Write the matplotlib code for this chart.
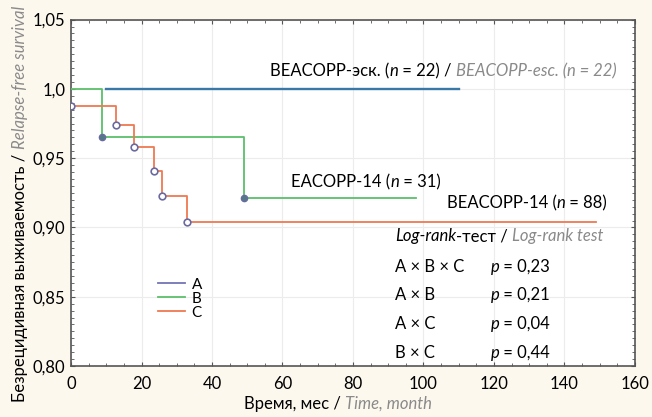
import matplotlib
matplotlib.use("Agg")
import matplotlib.pyplot as plt
from matplotlib.ticker import MultipleLocator, FixedLocator
from matplotlib.lines import Line2D
from matplotlib import transforms

plt.rcParams['font.family'] = ['Lato', 'DejaVu Sans']

# Data
a_time = [10, 110]
a_surv = [1.0, 1.0]

b_time = [0, 8.9, 49, 98]
b_surv = [1.0, 0.965, 0.921, 0.921]
b_event_time = [8.9, 49]
b_event_surv = [0.965, 0.921]

c_time = [0, 12.8, 17.8, 23.6, 25.7, 32.9, 149]
c_surv = [0.988, 0.974, 0.958, 0.941, 0.923, 0.904, 0.904]
c_event_time = [0, 12.8, 17.8, 23.6, 25.7, 32.9]
c_event_surv = [0.988, 0.974, 0.958, 0.941, 0.923, 0.904]

group_labels = ["A", "B", "C"]
x_ticks = [0, 20, 40, 60, 80, 100, 120, 140, 160]
y_ticks = [0.80, 0.85, 0.90, 0.95, 1.0, 1.05]
y_tick_labels = ["0,80", "0,85", "0,90", "0,95", "1,0", "1,05"]

pairs = ["A × B × C", "A × B", "A × C", "B × C"]
p_values = ["0,23", "0,21", "0,04", "0,44"]

col_a = "#3a78a8"
col_a_leg = "#7474b4"
col_b = "#5cbf6a"
col_c = "#ee7a50"
marker_edge = "#6a6aa0"
gray = "#8a8a8a"
FS = 12

fig = plt.figure(figsize=(6.52, 4.17), dpi=100, facecolor="#fcf8ee")
ax = fig.add_axes([0.1089, 0.1223, 0.8650, 0.8307])
ax.set_facecolor("white")

ax.plot(a_time, a_surv, color=col_a, lw=1.7, drawstyle="steps-post", zorder=3)
ax.plot(b_time, b_surv, color=col_b, lw=1.3, drawstyle="steps-post", zorder=3)
ax.plot(c_time, c_surv, color=col_c, lw=1.3, drawstyle="steps-post", zorder=4)
ax.plot(b_event_time, b_event_surv, ls="none", marker="o", ms=4.5,
        mfc="#4f7a86", mec=marker_edge, mew=1.0, zorder=5)
ax.plot(c_event_time, c_event_surv, ls="none", marker="o", ms=4.8,
        mfc="white", mec=marker_edge, mew=1.2, zorder=5)

handles = [Line2D([], [], color=c, lw=1.3) for c in (col_a_leg, col_b, col_c)]
ax.legend(handles, group_labels, loc="upper left",
          bbox_to_anchor=(0.154, 0.255), frameon=False, fontsize=11,
          handlelength=1.75, handletextpad=0.45, labelspacing=0.0,
          borderaxespad=0, borderpad=0)

ax.set_xlim(0, 160)
ax.set_ylim(0.80, 1.05)
ax.xaxis.set_major_locator(FixedLocator(x_ticks))
ax.yaxis.set_major_locator(FixedLocator(y_ticks))
ax.set_yticklabels(y_tick_labels)
ax.xaxis.set_minor_locator(MultipleLocator(5))
ax.yaxis.set_minor_locator(MultipleLocator(0.005))
ax.tick_params(which="both", direction="in", top=True, right=True,
               colors="#555555", labelcolor="black", labelsize=FS)
ax.tick_params(which="major", length=3, width=0.8)
ax.tick_params(which="minor", length=2, width=0.6)
ax.tick_params(axis="x", pad=7)
ax.tick_params(axis="y", pad=4)
ax.grid(True, which="major", color="#ececec", lw=0.8)
ax.set_axisbelow(True)
for s in ax.spines.values():
    s.set_color("#555555")
    s.set_linewidth(1.2)

renderer = fig.canvas.get_renderer()
it = dict(style="italic")
git = dict(style="italic", color=gray)


def chain(segs, x, y, trans, rot=0, center=False):
    """Draw consecutive text segments on a common baseline."""
    widths = []
    for s, kw in segs:
        tmp = fig.text(0, 0, s, fontsize=FS, **kw)
        widths.append(tmp.get_window_extent(renderer).width)
        tmp.remove()
    total = sum(widths)
    off = -total / 2 if center else 0
    for (s, kw), w in zip(segs, widths):
        if rot == 0:
            tr = transforms.offset_copy(trans, fig=fig, x=off * 72 / fig.dpi, y=0, units="points")
        else:
            tr = transforms.offset_copy(trans, fig=fig, x=0, y=off * 72 / fig.dpi, units="points")
        fig.text(x, y, s, fontsize=FS, transform=tr, rotation=rot,
                 rotation_mode="anchor", ha="left", va="baseline", **kw)
        off += w


# axis labels
chain([("Время, мес / ", {}), ("Time, month", git)], 338 / 652, 8 / 417,
      fig.transFigure, center=True)
chain([("Безрецидивная выживаемость / ", {}), ("Relapse-free survival", git)],
      25 / 652, 213 / 417, fig.transFigure, rot=90, center=True)

# annotations in data coordinates
chain([("BEACOPP-эск. (", {}), ("n", it), (" = 22) / ", {}),
       ("BEACOPP-esc. (n = 22)", git)], 56.5, 1.0092, ax.transData)
chain([("EACOPP-14 (", {}), ("n", it), (" = 31)", {})], 62.4, 0.929, ax.transData)
chain([("BEACOPP-14 (", {}), ("n", it), (" = 88)", {})], 106.6, 0.9138, ax.transData)
chain([("Log-rank", it), ("-тест / ", {}), ("Log-rank test", git)],
      91.9, 0.8902, ax.transData)

row_y = [0.868, 0.8476, 0.8267, 0.806]
for pr, pv, yy in zip(pairs, p_values, row_y):
    chain([(pr, {})], 91.9, yy, ax.transData)
    chain([("p", it), (" = " + pv, {})], 119, yy, ax.transData)

fig.savefig("out.png", dpi=100, facecolor=fig.get_facecolor())
